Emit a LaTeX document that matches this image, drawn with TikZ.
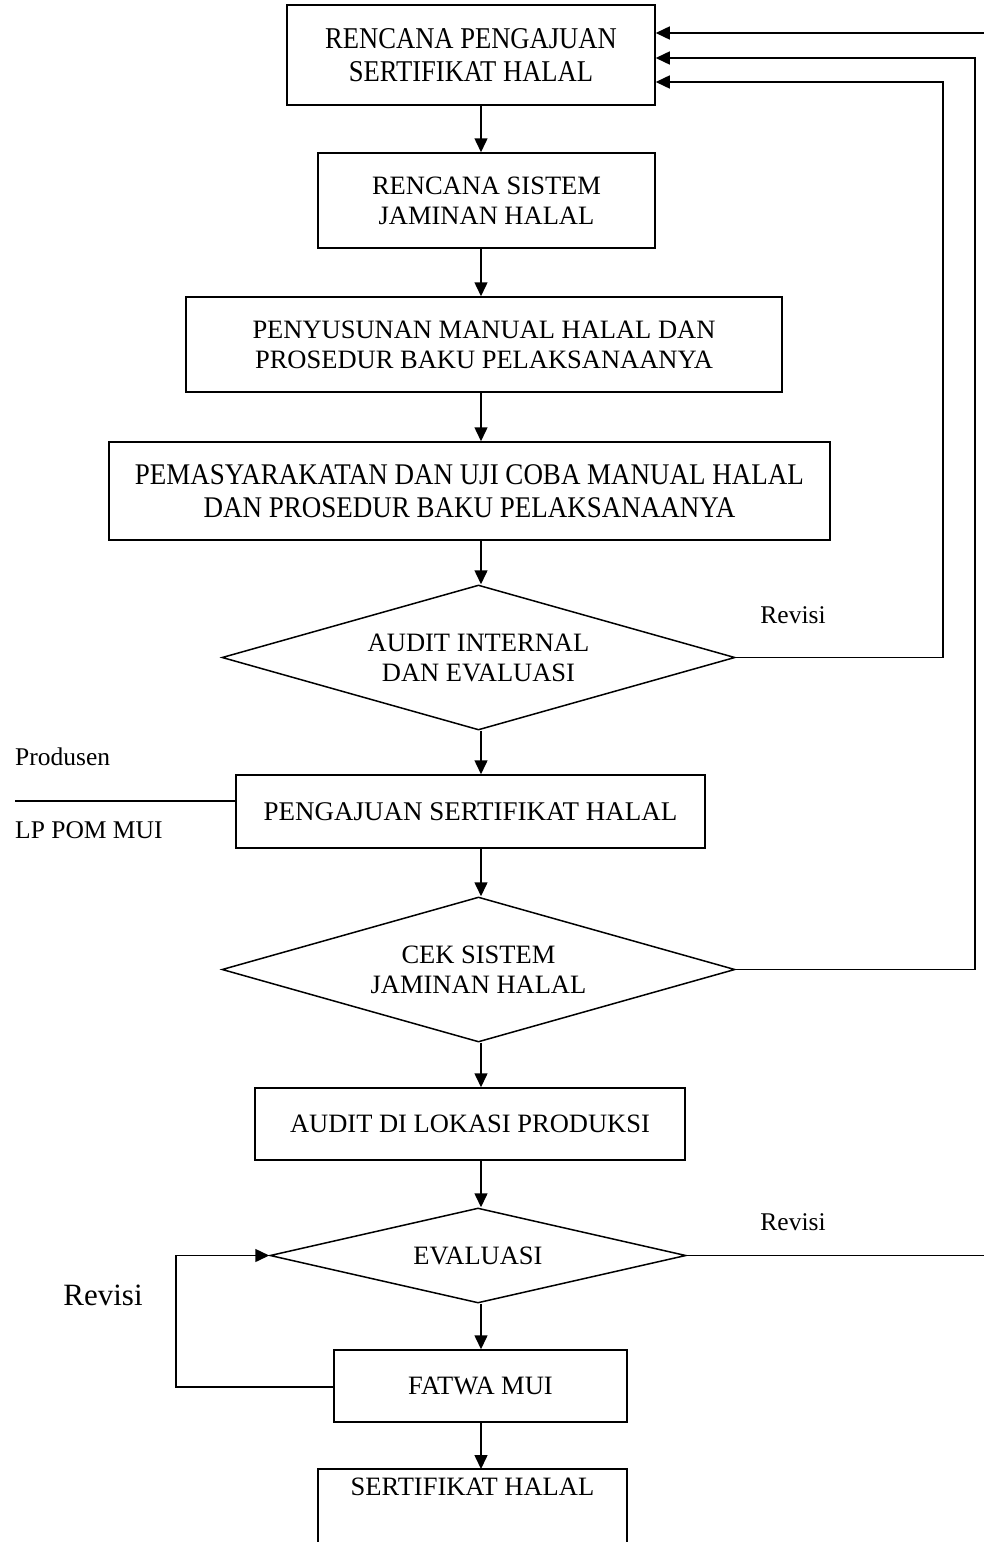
\documentclass[tikz,border=0pt]{standalone}
\usepackage{fontspec}
\setmainfont{Liberation Serif}
\newfontfamily\tallA{Liberation Serif}[FakeStretch=0.88]
\newfontfamily\tallB{Liberation Serif}[FakeStretch=0.9]
\usetikzlibrary{shapes.geometric,arrows.meta}
\begin{document}
\begin{tikzpicture}[x=1pt,y=-1pt,
  every node/.style={font=\fontsize{26.5}{30}\selectfont, align=center},
  box/.style={draw, line width=1.5pt, inner sep=0pt},
  dia/.style={draw, line width=1.5pt, diamond, inner sep=0pt, aspect=3.5},
  lbl/.style={inner sep=0pt, font=\fontsize{25.5}{30}\selectfont},
  conn/.style={line width=1.5pt},
  arr/.style={line width=1.5pt, -{Triangle[length=14pt,width=13pt]}}]
\useasboundingbox (0,0) rectangle (984,1542);
\coordinate (axis) at (481,0);
% boxes
\node[box, minimum width=368pt, minimum height=100pt, font=\tallA\fontsize{30.2}{33}\selectfont] (b1) at (471,55) {RENCANA PENGAJUAN\\SERTIFIKAT HALAL};
\node[box, minimum width=337pt, minimum height=95pt] (b2) at (486.5,200.5) {RENCANA SISTEM\\JAMINAN HALAL};
\node[box, minimum width=596pt, minimum height=95pt] (b3) at (484,344.5) {PENYUSUNAN MANUAL HALAL DAN\\PROSEDUR BAKU PELAKSANAANYA};
\node[box, minimum width=721pt, minimum height=98pt, font=\tallB\fontsize{30}{33}\selectfont] (b4) at (469.5,491) {PEMASYARAKATAN DAN UJI COBA MANUAL HALAL\\DAN PROSEDUR BAKU PELAKSANAANYA};
\node[dia, minimum width=513pt, minimum height=145pt] (d1) at (478.5,657.5) {AUDIT INTERNAL\\DAN EVALUASI};
\node[box, minimum width=469pt, minimum height=73pt, font=\fontsize{27}{30}\selectfont] (b6) at (470.5,811.5) {PENGAJUAN SERTIFIKAT HALAL};
\node[dia, minimum width=513pt, minimum height=145pt] (d2) at (478.5,969.5) {CEK SISTEM\\JAMINAN HALAL};
\node[box, minimum width=430pt, minimum height=72pt] (b8) at (470,1124) {AUDIT DI LOKASI PRODUKSI};
\node[dia, minimum width=416pt, minimum height=95pt] (d3) at (478,1255.5) {EVALUASI};
\node[box, minimum width=293pt, minimum height=72pt] (b10) at (480.5,1386) {FATWA MUI};
% last box, open at the bottom
\coordinate (b11nw) at (318,1469);
\coordinate (b11ne) at (627,1469);
\draw[conn] (318,1545) -- (b11nw) -- (b11ne) -- (627,1545);
\node[inner sep=0pt] (b11) at (472.5,1487) {SERTIFIKAT HALAL};
% main flow
\draw[arr] (b1.south -| axis) -- (b2.north -| axis);
\draw[arr] (b2.south -| axis) -- (b3.north -| axis);
\draw[arr] (b3.south -| axis) -- (b4.north -| axis);
\draw[arr] (b4.south -| axis) -- (d1.north -| axis);
\draw[arr] (d1.south -| axis) -- (b6.north -| axis);
\draw[arr] (b6.south -| axis) -- (d2.north -| axis);
\draw[arr] (d2.south -| axis) -- (b8.north -| axis);
\draw[arr] (b8.south -| axis) -- (d3.north -| axis);
\draw[arr] (d3.south -| axis) -- (b10.north -| axis);
\draw[arr] (b10.south -| axis) -- (b11nw -| axis);
% feedback loops
\coordinate (r1) at (943,82);
\coordinate (r2) at (975,58);
\coordinate (r3) at (984,33);
\coordinate (e3) at (984,1255.5);
\draw[arr] (d1.east) -| (r1) -- (r1 -| b1.east);
\draw[arr] (d2.east) -| (r2) -- (r2 -| b1.east);
\draw[conn] (d3.east) -- (e3);
\draw[arr] (r3) -- (r3 -| b1.east);
\coordinate (l1) at (176,1255.5);
\draw[arr] (b10.west |- 0,1387) -| (l1) -- (d3.west);
% producer line
\coordinate (p0) at (15,801);
\draw[conn] (p0) -- (p0 -| b6.west);
% labels
\node[lbl] (rev1) at (793,615) {Revisi};
\node[lbl] (rev2) at (793,1222) {Revisi};
\node[lbl, font=\fontsize{31}{36}\selectfont] (rev3) at (103,1295) {Revisi};
\node[lbl, anchor=west] (prod) at (15,757) {Produsen};
\node[lbl, anchor=west] (lppom) at (15,830) {LP POM MUI};
\end{tikzpicture}
\end{document}
